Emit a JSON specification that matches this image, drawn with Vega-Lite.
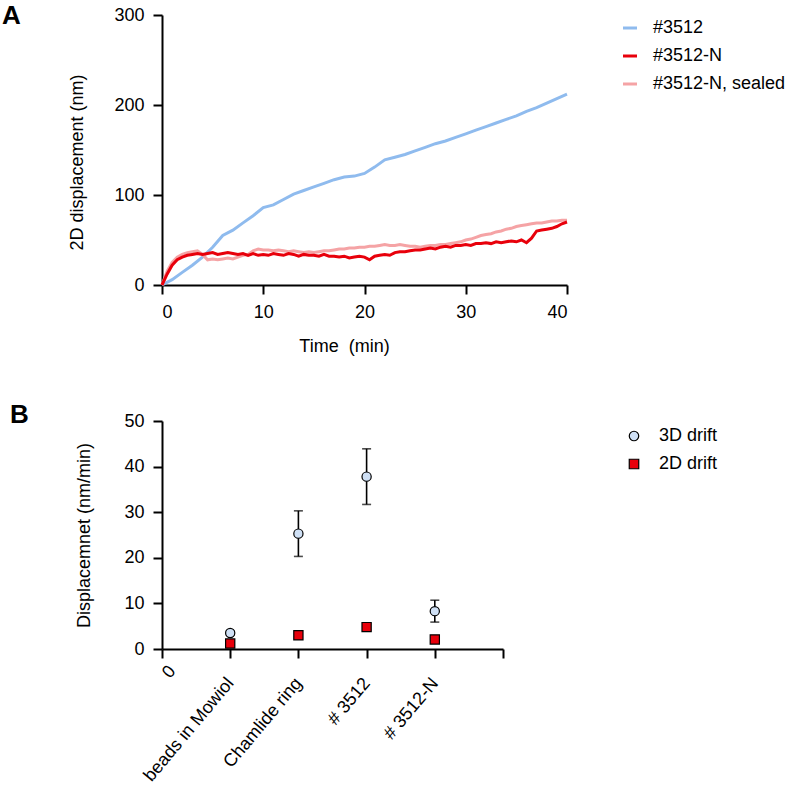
{
  "$schema": "https://vega.github.io/schema/vega-lite/v6.json",
  "padding": {"left": 1, "top": 3, "right": 0, "bottom": 0},
  "spacing": 47,
  "resolve": {"legend": {"color": "independent", "fill": "independent", "shape": "independent"}, "scale": {"color": "independent", "fill": "independent", "shape": "independent"}},
  "config": {
    "font": "Liberation Sans",
    "view": {"stroke": null},
    "axis": {"domainColor": "black", "tickColor": "black", "labelColor": "black", "titleColor": "black", "domainWidth": 2, "tickWidth": 2, "tickSize": 9, "labelFontSize": 18, "titleFontSize": 18, "titleFontWeight": "normal", "grid": false, "labelPadding": 9},
    "legend": {"labelFontSize": 18, "labelColor": "black", "title": null, "labelLimit": 300}
  },
  "datasets": {
    "lines": [
      {"s":"#3512","t":0,"v":0},{"s":"#3512","t":1,"v":6},{"s":"#3512","t":2,"v":14},{"s":"#3512","t":3,"v":22},{"s":"#3512","t":4,"v":31},{"s":"#3512","t":5,"v":42},{"s":"#3512","t":6,"v":55},{"s":"#3512","t":7,"v":61},{"s":"#3512","t":8,"v":69},{"s":"#3512","t":9,"v":77},{"s":"#3512","t":10,"v":86},{"s":"#3512","t":11,"v":89},{"s":"#3512","t":12,"v":95},{"s":"#3512","t":13,"v":101},{"s":"#3512","t":14,"v":105},{"s":"#3512","t":15,"v":109},{"s":"#3512","t":16,"v":113},{"s":"#3512","t":17,"v":117},{"s":"#3512","t":18,"v":120},{"s":"#3512","t":19,"v":121},{"s":"#3512","t":20,"v":124},{"s":"#3512","t":21,"v":131},{"s":"#3512","t":22,"v":139},{"s":"#3512","t":23,"v":142},{"s":"#3512","t":24,"v":145},{"s":"#3512","t":25,"v":149},{"s":"#3512","t":26,"v":153},{"s":"#3512","t":27,"v":157},{"s":"#3512","t":28,"v":160},{"s":"#3512","t":29,"v":164},{"s":"#3512","t":30,"v":168},{"s":"#3512","t":31,"v":172},{"s":"#3512","t":32,"v":176},{"s":"#3512","t":33,"v":180},{"s":"#3512","t":34,"v":184},{"s":"#3512","t":35,"v":188},{"s":"#3512","t":36,"v":193},{"s":"#3512","t":37,"v":197},{"s":"#3512","t":38,"v":202},{"s":"#3512","t":39,"v":207},{"s":"#3512","t":40,"v":212},
      {"s":"#3512-N, sealed","t":0,"v":0},{"s":"#3512-N, sealed","t":0.5,"v":15},{"s":"#3512-N, sealed","t":1,"v":25},{"s":"#3512-N, sealed","t":1.5,"v":31},{"s":"#3512-N, sealed","t":2,"v":34},{"s":"#3512-N, sealed","t":2.5,"v":36},{"s":"#3512-N, sealed","t":3,"v":37},{"s":"#3512-N, sealed","t":3.5,"v":38},{"s":"#3512-N, sealed","t":4,"v":34},{"s":"#3512-N, sealed","t":4.5,"v":28},{"s":"#3512-N, sealed","t":5,"v":29},{"s":"#3512-N, sealed","t":5.5,"v":28},{"s":"#3512-N, sealed","t":6,"v":29},{"s":"#3512-N, sealed","t":6.5,"v":30},{"s":"#3512-N, sealed","t":7,"v":29},{"s":"#3512-N, sealed","t":7.5,"v":31},{"s":"#3512-N, sealed","t":8,"v":33},{"s":"#3512-N, sealed","t":8.5,"v":34},{"s":"#3512-N, sealed","t":9,"v":38},{"s":"#3512-N, sealed","t":9.5,"v":40},{"s":"#3512-N, sealed","t":10,"v":39},{"s":"#3512-N, sealed","t":10.5,"v":39},{"s":"#3512-N, sealed","t":11,"v":38},{"s":"#3512-N, sealed","t":11.5,"v":39},{"s":"#3512-N, sealed","t":12,"v":38},{"s":"#3512-N, sealed","t":12.5,"v":37},{"s":"#3512-N, sealed","t":13,"v":38},{"s":"#3512-N, sealed","t":13.5,"v":37},{"s":"#3512-N, sealed","t":14,"v":36},{"s":"#3512-N, sealed","t":14.5,"v":37},{"s":"#3512-N, sealed","t":15,"v":36},{"s":"#3512-N, sealed","t":15.5,"v":37},{"s":"#3512-N, sealed","t":16,"v":38},{"s":"#3512-N, sealed","t":16.5,"v":38},{"s":"#3512-N, sealed","t":17,"v":39},{"s":"#3512-N, sealed","t":17.5,"v":40},{"s":"#3512-N, sealed","t":18,"v":40},{"s":"#3512-N, sealed","t":18.5,"v":41},{"s":"#3512-N, sealed","t":19,"v":41},{"s":"#3512-N, sealed","t":19.5,"v":42},{"s":"#3512-N, sealed","t":20,"v":42},{"s":"#3512-N, sealed","t":20.5,"v":43},{"s":"#3512-N, sealed","t":21,"v":43},{"s":"#3512-N, sealed","t":21.5,"v":44},{"s":"#3512-N, sealed","t":22,"v":45},{"s":"#3512-N, sealed","t":22.5,"v":44},{"s":"#3512-N, sealed","t":23,"v":44},{"s":"#3512-N, sealed","t":23.5,"v":45},{"s":"#3512-N, sealed","t":24,"v":44},{"s":"#3512-N, sealed","t":24.5,"v":43},{"s":"#3512-N, sealed","t":25,"v":43},{"s":"#3512-N, sealed","t":25.5,"v":42},{"s":"#3512-N, sealed","t":26,"v":43},{"s":"#3512-N, sealed","t":26.5,"v":44},{"s":"#3512-N, sealed","t":27,"v":44},{"s":"#3512-N, sealed","t":27.5,"v":45},{"s":"#3512-N, sealed","t":28,"v":45},{"s":"#3512-N, sealed","t":28.5,"v":46},{"s":"#3512-N, sealed","t":29,"v":47},{"s":"#3512-N, sealed","t":29.5,"v":48},{"s":"#3512-N, sealed","t":30,"v":50},{"s":"#3512-N, sealed","t":30.5,"v":51},{"s":"#3512-N, sealed","t":31,"v":53},{"s":"#3512-N, sealed","t":31.5,"v":55},{"s":"#3512-N, sealed","t":32,"v":56},{"s":"#3512-N, sealed","t":32.5,"v":57},{"s":"#3512-N, sealed","t":33,"v":59},{"s":"#3512-N, sealed","t":33.5,"v":60},{"s":"#3512-N, sealed","t":34,"v":62},{"s":"#3512-N, sealed","t":34.5,"v":63},{"s":"#3512-N, sealed","t":35,"v":65},{"s":"#3512-N, sealed","t":35.5,"v":66},{"s":"#3512-N, sealed","t":36,"v":67},{"s":"#3512-N, sealed","t":36.5,"v":68},{"s":"#3512-N, sealed","t":37,"v":69},{"s":"#3512-N, sealed","t":37.5,"v":69},{"s":"#3512-N, sealed","t":38,"v":70},{"s":"#3512-N, sealed","t":38.5,"v":71},{"s":"#3512-N, sealed","t":39,"v":71},{"s":"#3512-N, sealed","t":39.5,"v":72},{"s":"#3512-N, sealed","t":40,"v":72},
      {"s":"#3512-N","t":0,"v":0},{"s":"#3512-N","t":0.5,"v":12},{"s":"#3512-N","t":1,"v":22},{"s":"#3512-N","t":1.5,"v":28},{"s":"#3512-N","t":2,"v":31},{"s":"#3512-N","t":2.5,"v":33},{"s":"#3512-N","t":3,"v":34},{"s":"#3512-N","t":3.5,"v":35},{"s":"#3512-N","t":4,"v":34},{"s":"#3512-N","t":4.5,"v":35},{"s":"#3512-N","t":5,"v":36},{"s":"#3512-N","t":5.5,"v":34},{"s":"#3512-N","t":6,"v":35},{"s":"#3512-N","t":6.5,"v":36},{"s":"#3512-N","t":7,"v":35},{"s":"#3512-N","t":7.5,"v":34},{"s":"#3512-N","t":8,"v":35},{"s":"#3512-N","t":8.5,"v":33},{"s":"#3512-N","t":9,"v":35},{"s":"#3512-N","t":9.5,"v":33},{"s":"#3512-N","t":10,"v":34},{"s":"#3512-N","t":10.5,"v":33},{"s":"#3512-N","t":11,"v":35},{"s":"#3512-N","t":11.5,"v":34},{"s":"#3512-N","t":12,"v":33},{"s":"#3512-N","t":12.5,"v":35},{"s":"#3512-N","t":13,"v":34},{"s":"#3512-N","t":13.5,"v":32},{"s":"#3512-N","t":14,"v":34},{"s":"#3512-N","t":14.5,"v":33},{"s":"#3512-N","t":15,"v":33},{"s":"#3512-N","t":15.5,"v":32},{"s":"#3512-N","t":16,"v":34},{"s":"#3512-N","t":16.5,"v":32},{"s":"#3512-N","t":17,"v":32},{"s":"#3512-N","t":17.5,"v":31},{"s":"#3512-N","t":18,"v":32},{"s":"#3512-N","t":18.5,"v":30},{"s":"#3512-N","t":19,"v":31},{"s":"#3512-N","t":19.5,"v":32},{"s":"#3512-N","t":20,"v":31},{"s":"#3512-N","t":20.5,"v":28},{"s":"#3512-N","t":21,"v":32},{"s":"#3512-N","t":21.5,"v":33},{"s":"#3512-N","t":22,"v":34},{"s":"#3512-N","t":22.5,"v":33},{"s":"#3512-N","t":23,"v":36},{"s":"#3512-N","t":23.5,"v":37},{"s":"#3512-N","t":24,"v":37},{"s":"#3512-N","t":24.5,"v":38},{"s":"#3512-N","t":25,"v":39},{"s":"#3512-N","t":25.5,"v":39},{"s":"#3512-N","t":26,"v":40},{"s":"#3512-N","t":26.5,"v":41},{"s":"#3512-N","t":27,"v":40},{"s":"#3512-N","t":27.5,"v":42},{"s":"#3512-N","t":28,"v":43},{"s":"#3512-N","t":28.5,"v":42},{"s":"#3512-N","t":29,"v":44},{"s":"#3512-N","t":29.5,"v":44},{"s":"#3512-N","t":30,"v":45},{"s":"#3512-N","t":30.5,"v":44},{"s":"#3512-N","t":31,"v":46},{"s":"#3512-N","t":31.5,"v":46},{"s":"#3512-N","t":32,"v":47},{"s":"#3512-N","t":32.5,"v":46},{"s":"#3512-N","t":33,"v":48},{"s":"#3512-N","t":33.5,"v":47},{"s":"#3512-N","t":34,"v":48},{"s":"#3512-N","t":34.5,"v":49},{"s":"#3512-N","t":35,"v":48},{"s":"#3512-N","t":35.5,"v":50},{"s":"#3512-N","t":36,"v":47},{"s":"#3512-N","t":36.5,"v":52},{"s":"#3512-N","t":37,"v":60},{"s":"#3512-N","t":37.5,"v":61},{"s":"#3512-N","t":38,"v":62},{"s":"#3512-N","t":38.5,"v":63},{"s":"#3512-N","t":39,"v":65},{"s":"#3512-N","t":39.5,"v":68},{"s":"#3512-N","t":40,"v":70}
    ],
    "drift": [
      {"cat":"beads in Mowiol","drift":"3D drift","v":3.5,"lo":3.1,"hi":3.9},
      {"cat":"Chamlide ring","drift":"3D drift","v":25.3,"lo":20.3,"hi":30.3},
      {"cat":"# 3512","drift":"3D drift","v":37.8,"lo":31.7,"hi":43.9},
      {"cat":"# 3512-N","drift":"3D drift","v":8.3,"lo":5.9,"hi":10.7},
      {"cat":"beads in Mowiol","drift":"2D drift","v":1.2,"lo":0.9,"hi":1.5},
      {"cat":"Chamlide ring","drift":"2D drift","v":3.0,"lo":2.7,"hi":3.3},
      {"cat":"# 3512","drift":"2D drift","v":4.8,"lo":4.2,"hi":5.5},
      {"cat":"# 3512-N","drift":"2D drift","v":2.1,"lo":1.8,"hi":2.4}
    ]
  },
  "vconcat": [
    {
      "width": 405,
      "height": 270,
      "title": {"text": "A", "anchor": "start", "frame": "bounds", "fontSize": 26, "fontWeight": "bold", "color": "black", "baseline": "alphabetic", "offset": 0, "dx": -67, "dy": 44},
      "data": {"name": "lines"},
      "mark": {"type": "line", "strokeWidth": 3},
      "encoding": {
        "x": {"field": "t", "type": "quantitative", "scale": {"domain": [0, 40], "nice": false}, "axis": {"values": [0, 10, 20, 30, 40], "title": "Time\u00a0 (min)", "titlePadding": 16, "titleX": 182}},
        "y": {"field": "v", "type": "quantitative", "scale": {"domain": [0, 300], "nice": false}, "axis": {"values": [0, 100, 200, 300], "title": "2D displacement (nm)", "titlePadding": 27, "titleY": 147}},
        "color": {"field": "s", "type": "nominal", "scale": {"domain": ["#3512", "#3512-N", "#3512-N, sealed"], "range": ["#8FBBEE", "#E8000B", "#F5A3A5"]}, "legend": {"orient": "right", "offset": 44, "padding": 4, "symbolType": "stroke", "symbolSize": 196, "symbolStrokeWidth": 3, "labelOffset": 14, "rowPadding": 10}}
      }
    },
    {
      "width": 341,
      "height": 228,
      "title": {"text": "B", "anchor": "start", "frame": "bounds", "fontSize": 26, "fontWeight": "bold", "color": "black", "baseline": "alphabetic", "offset": 0, "dx": -66, "dy": 37},
      "data": {"name": "drift"},
      "encoding": {
        "x": {"field": "cat", "type": "nominal", "sort": null, "scale": {"type": "point", "padding": 0, "domain": ["0", "beads in Mowiol", "Chamlide ring", "# 3512", "# 3512-N", " "]},
          "axis": {"title": null, "labelAngle": -50,
            "labelAlign": {"condition": {"test": "datum.value === '0'", "value": "center"}, "value": "right"},
            "labelBaseline": {"condition": {"test": "datum.value === '0'", "value": "top"}, "value": "middle"},
            "labelPadding": {"condition": {"test": "datum.value === '0'", "value": 8}, "value": 22},
            "encoding": {"labels": {"update": {"angle": {"signal": "datum.value === '0' ? 0 : -50"}}}}}}
      },
      "layer": [
        {
          "mark": {"type": "rule", "color": "black", "strokeWidth": 1.6},
          "encoding": {
            "y": {"field": "lo", "type": "quantitative", "scale": {"domain": [0, 50], "nice": false}, "axis": {"values": [0, 10, 20, 30, 40, 50], "title": "Displacemnet (nm/min)", "titlePadding": 30}},
            "y2": {"field": "hi"}
          }
        },
        {
          "mark": {"type": "tick", "orient": "horizontal", "color": "black", "size": 9, "thickness": 1.6},
          "encoding": {"y": {"field": "lo", "type": "quantitative"}}
        },
        {
          "mark": {"type": "tick", "orient": "horizontal", "color": "black", "size": 9, "thickness": 1.6},
          "encoding": {"y": {"field": "hi", "type": "quantitative"}}
        },
        {
          "mark": {"type": "point", "filled": true, "stroke": "black", "strokeWidth": 1.2, "size": 85, "opacity": 1},
          "encoding": {
            "y": {"field": "v", "type": "quantitative"},
            "fill": {"field": "drift", "type": "nominal", "scale": {"domain": ["3D drift", "2D drift"], "range": ["#CFE0F5", "#E8000B"]}, "legend": {"orient": "right", "offset": 116, "padding": 6, "symbolStrokeColor": "black", "symbolStrokeWidth": 1.2, "symbolSize": 90, "labelOffset": 16, "rowPadding": 10, "symbolOpacity": 1}},
            "shape": {"field": "drift", "type": "nominal", "scale": {"domain": ["3D drift", "2D drift"], "range": ["circle", "square"]}}
          }
        }
      ]
    }
  ]
}
